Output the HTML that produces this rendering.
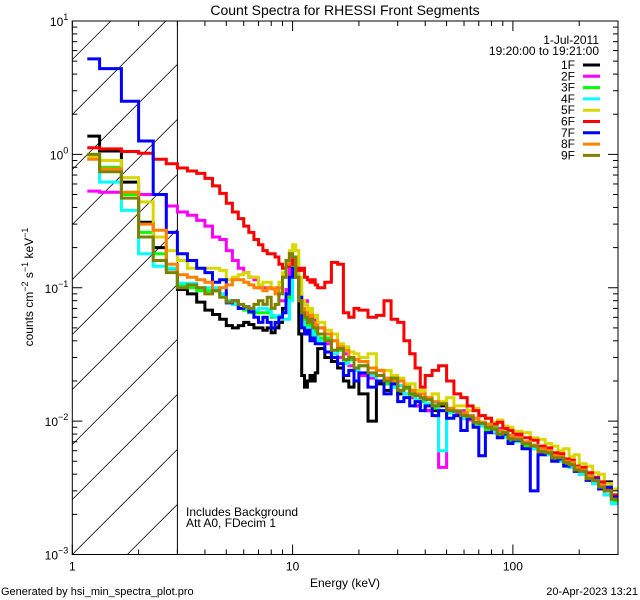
<!DOCTYPE html>
<html><head><meta charset="utf-8"><style>
html,body{margin:0;padding:0;background:#fff;width:640px;height:600px;overflow:hidden;}
svg{display:block;font-family:"Liberation Sans",sans-serif;}
</style></head><body>
<svg id="chart" width="640" height="600" viewBox="0 0 640 600">
<defs><clipPath id="pc"><rect x="72.3" y="21" width="545.7" height="533.5"/></clipPath></defs>
<rect width="640" height="600" fill="#fff"/>
<text x="345" y="15" text-anchor="middle" font-size="14">Count Spectra for RHESSI Front Segments</text>
<g id="hatch"></g>
<g id="series" clip-path="url(#pc)"></g>
<g id="axes"></g>
<text x="186" y="516" font-size="12">Includes Background</text>
<text x="186" y="527" font-size="12">Att A0, FDecim 1</text>
<text x="599" y="44" text-anchor="end" font-size="12">1-Jul-2011</text>
<text x="599" y="55" text-anchor="end" font-size="12">19:20:00 to 19:21:00</text>
<g id="legend"></g>
<text x="345" y="587" text-anchor="middle" font-size="12">Energy (keV)</text>
<text x="33" y="287" text-anchor="middle" font-size="12" transform="rotate(-90 33 287)">counts cm<tspan dy="-5" font-size="9">−2</tspan><tspan dy="5"> s</tspan><tspan dy="-5" font-size="9">−1</tspan><tspan dy="5"> keV</tspan><tspan dy="-5" font-size="9">−1</tspan></text>
<text x="1" y="595" font-size="11">Generated by hsi_min_spectra_plot.pro</text>
<text x="638" y="595" text-anchor="end" font-size="11">20-Apr-2023 13:21</text>
</svg>
<script>
const edges = [1.17,1.33,1.67,2.0,2.33,2.67,3.0,3.33,3.67,4.0,4.33,4.67,5.0,5.33,5.67,6,6.33,6.67,7,7.33,7.67,8,8.33,8.67,9,9.33,9.67,10,10.33,10.67,11,11.33,11.67,12,12.33,12.67,13,14,15,16,17,18,19,20,22,24,26,28,30,32,34,36,38,40,43,46,50,54,58,62,66,70,75,80,85,90,95,100,110,120,130,140,150,160,170,180,190,200,215,230,245,260,280,300];
const seriesNames = ["1F","2F","3F","4F","5F","6F","7F","8F","9F"];
const s1F = [1.37,1.06,0.62,0.31,0.2,0.139,0.097,0.09,0.078,0.068,0.063,0.058,0.052,0.05,0.052,0.055,0.053,0.05,0.05,0.048,0.05,0.046,0.05,0.055,0.07,0.08,0.14,0.17,0.12,0.045,0.022,0.018,0.02,0.022,0.02,0.023,0.035,0.03,0.028,0.025,0.02,0.018,0.02,0.016,0.01,0.019,0.017,0.018,0.016,0.016,0.015,0.013,0.014,0.012,0.012,0.013,0.012,0.011,0.0105,0.011,0.0098,0.0092,0.009,0.0082,0.0085,0.0078,0.0072,0.0075,0.0066,0.0066,0.006,0.0058,0.0052,0.0053,0.0048,0.0048,0.0043,0.0042,0.0036,0.0035,0.0031,0.0035,0.0025];
const s2F = [0.53,0.52,0.51,0.50,0.50,0.41,0.37,0.35,0.32,0.29,0.24,0.23,0.19,0.16,0.14,0.13,0.12,0.115,0.10,0.10,0.10,0.10,0.10,0.08,0.08,0.097,0.145,0.17,0.14,0.09,0.075,0.08,0.065,0.06,0.058,0.055,0.05,0.038,0.04,0.03,0.032,0.026,0.025,0.022,0.021,0.02,0.019,0.02,0.017,0.018,0.015,0.013,0.0145,0.012,0.013,0.0045,0.012,0.0115,0.012,0.0102,0.0105,0.0093,0.0095,0.0082,0.0088,0.0078,0.0073,0.0076,0.0068,0.0062,0.0063,0.0056,0.0055,0.0052,0.0049,0.0046,0.0045,0.004,0.0039,0.0034,0.0033,0.0028,0.0027];
const s3F = [1.0,0.8,0.5,0.26,0.18,0.14,0.105,0.1,0.095,0.095,0.095,0.09,0.08,0.075,0.07,0.068,0.065,0.065,0.065,0.065,0.065,0.06,0.06,0.06,0.065,0.08,0.12,0.16,0.14,0.09,0.06,0.05,0.055,0.045,0.05,0.045,0.042,0.042,0.034,0.034,0.028,0.029,0.025,0.026,0.022,0.022,0.019,0.0195,0.017,0.0175,0.0155,0.016,0.014,0.0145,0.0125,0.0135,0.0115,0.012,0.0105,0.011,0.0095,0.0098,0.0085,0.009,0.0078,0.0083,0.0072,0.0074,0.0065,0.0066,0.0058,0.0059,0.0052,0.0053,0.0048,0.0048,0.0042,0.0042,0.0037,0.0036,0.0031,0.003,0.0025];
const s4F = [0.93,0.62,0.38,0.18,0.145,0.14,0.108,0.108,0.1,0.1,0.1,0.09,0.08,0.075,0.07,0.07,0.07,0.068,0.07,0.07,0.068,0.062,0.06,0.062,0.058,0.058,0.08,0.13,0.16,0.10,0.055,0.05,0.045,0.05,0.042,0.045,0.04,0.045,0.032,0.035,0.027,0.03,0.024,0.026,0.022,0.02,0.021,0.018,0.0185,0.016,0.0165,0.0145,0.015,0.0135,0.0135,0.006,0.0115,0.012,0.0105,0.0108,0.0098,0.0092,0.0092,0.0083,0.0083,0.0076,0.0076,0.007,0.0069,0.0062,0.0062,0.0056,0.0055,0.005,0.0051,0.0045,0.0045,0.004,0.0039,0.0034,0.0033,0.0028,0.0024];
const s5F = [0.95,0.9,0.67,0.44,0.24,0.19,0.16,0.14,0.14,0.14,0.14,0.135,0.115,0.12,0.125,0.13,0.12,0.12,0.105,0.11,0.11,0.10,0.095,0.11,0.13,0.16,0.19,0.21,0.19,0.12,0.08,0.075,0.065,0.07,0.06,0.062,0.055,0.048,0.045,0.038,0.036,0.033,0.032,0.03,0.032,0.024,0.024,0.022,0.021,0.019,0.019,0.017,0.017,0.015,0.016,0.014,0.015,0.013,0.013,0.012,0.0125,0.011,0.0105,0.0098,0.0102,0.0092,0.009,0.0084,0.0082,0.0075,0.0073,0.0068,0.0065,0.006,0.0062,0.0054,0.0056,0.0048,0.0046,0.0041,0.004,0.0034,0.0031];
const s6F = [1.12,1.1,1.05,1.02,0.92,0.85,0.79,0.75,0.72,0.66,0.58,0.51,0.43,0.37,0.33,0.29,0.26,0.23,0.21,0.19,0.18,0.18,0.17,0.15,0.14,0.145,0.15,0.16,0.14,0.135,0.14,0.12,0.115,0.11,0.115,0.105,0.1,0.11,0.155,0.15,0.065,0.06,0.07,0.068,0.06,0.062,0.08,0.058,0.055,0.04,0.032,0.025,0.018,0.022,0.024,0.026,0.02,0.016,0.015,0.013,0.012,0.011,0.0105,0.0095,0.0098,0.0088,0.0085,0.008,0.0075,0.0072,0.0065,0.0063,0.0058,0.0057,0.0052,0.0051,0.0046,0.0045,0.0041,0.0038,0.0035,0.0031,0.0028];
const s7F = [5.2,4.4,2.5,1.26,0.5,0.26,0.18,0.16,0.14,0.13,0.11,0.115,0.077,0.08,0.07,0.072,0.066,0.06,0.055,0.06,0.055,0.05,0.055,0.06,0.065,0.09,0.12,0.14,0.12,0.085,0.05,0.045,0.048,0.04,0.042,0.038,0.038,0.033,0.03,0.027,0.022,0.024,0.02,0.023,0.018,0.02,0.016,0.019,0.014,0.015,0.013,0.014,0.012,0.013,0.011,0.012,0.0105,0.011,0.0085,0.0105,0.009,0.0055,0.0082,0.0088,0.0075,0.008,0.0068,0.0072,0.0062,0.003,0.0056,0.0058,0.005,0.0052,0.0046,0.0048,0.0042,0.0043,0.0036,0.0037,0.0031,0.0032,0.0027];
const s8F = [0.92,0.78,0.52,0.30,0.27,0.15,0.125,0.12,0.115,0.11,0.095,0.1,0.105,0.115,0.115,0.11,0.105,0.1,0.1,0.095,0.1,0.098,0.09,0.1,0.12,0.15,0.18,0.17,0.12,0.08,0.07,0.065,0.06,0.062,0.055,0.052,0.05,0.045,0.04,0.036,0.034,0.03,0.029,0.028,0.025,0.024,0.021,0.02,0.02,0.018,0.017,0.016,0.016,0.015,0.014,0.0135,0.0125,0.012,0.0115,0.011,0.0105,0.0098,0.0095,0.0088,0.0085,0.0082,0.0078,0.0075,0.007,0.0066,0.0062,0.006,0.0055,0.0054,0.005,0.0049,0.0045,0.0043,0.0039,0.0036,0.0033,0.003,0.0026];
const s9F = [1.0,0.74,0.47,0.24,0.16,0.13,0.10,0.105,0.1,0.09,0.095,0.085,0.078,0.08,0.075,0.072,0.07,0.075,0.08,0.075,0.085,0.07,0.075,0.09,0.12,0.16,0.18,0.17,0.12,0.08,0.065,0.06,0.055,0.058,0.05,0.05,0.045,0.04,0.034,0.035,0.029,0.03,0.025,0.026,0.023,0.022,0.02,0.021,0.017,0.018,0.016,0.0155,0.015,0.0145,0.013,0.0135,0.012,0.0118,0.011,0.0108,0.0098,0.0096,0.009,0.0087,0.008,0.0082,0.0074,0.0073,0.0068,0.0065,0.0059,0.0058,0.0053,0.0053,0.0049,0.0047,0.0043,0.0042,0.0037,0.0036,0.0032,0.003,0.0026];
const seriesColors = ["#000000","#ff00ff","#00ff00","#00ffff","#d8d800","#ff0000","#0000ff","#ff8000","#808000"];
const xTickMajor = [1,10,100];
const xTickLabels = ["1","10","100"];
const yTickExp = [1,0,-1,-2,-3];

const NS="http://www.w3.org/2000/svg";
const L=72.3,R=618,T=21,B=554.5;
const xLo=0, xHi=Math.log10(300);
const yLo=-3, yHi=1;
function xs(e){return L+(Math.log10(e)-xLo)/(xHi-xLo)*(R-L);}
function ys(v){return B-(Math.log10(v)-yLo)/(yHi-yLo)*(B-T);}
function mk(tag,attrs,parent){const el=document.createElementNS(NS,tag);for(const k in attrs)el.setAttribute(k,attrs[k]);parent.appendChild(el);return el;}

const hatch=document.getElementById('hatch');
const x3=xs(3);
for(let k=-2;k<12;k++){
  const y0=B-k*55;
  let xa=L+Math.max(0,y0-B), xb=Math.min(x3,L+(y0-T));
  if(xb<=xa) continue;
  const ln=mk('line',{x1:xa,y1:y0-(xa-L),x2:xb,y2:y0-(xb-L),stroke:'#000','stroke-width':0.8},hatch);
  
  
}
const vl=mk('line',{x1:x3,y1:T,x2:x3,y2:B,stroke:'#000','stroke-width':1},hatch);



const allSeries=[s1F,s2F,s3F,s4F,s5F,s6F,s7F,s8F,s9F];
const sg=document.getElementById('series');
allSeries.forEach((vals,si)=>{
  let d='';
  const n=Math.min(vals.length,edges.length-1);
  for(let i=0;i<n;i++){
    const y=ys(vals[i]).toFixed(1);
    d+=(i===0?'M':'L')+xs(edges[i]).toFixed(1)+','+y+'L'+xs(edges[i+1]).toFixed(1)+','+y;
  }
  const p=mk('path',{d:d,fill:'none',stroke:seriesColors[si],'stroke-width':3,'stroke-linejoin':'miter'},sg);
  
  
});

const ax=document.getElementById('axes');
const fr=mk('rect',{x:L,y:T,width:R-L,height:B-T,fill:'none',stroke:'#000','stroke-width':1},ax);


for(let dec=1;dec<=100;dec*=10){
  for(let m=1;m<10;m++){
    const e=dec*m; if(e>300) break;
    const x=xs(e), len=(m===1)?10:5;
    const t1=mk('line',{x1:x,y1:B,x2:x,y2:B-len,stroke:'#000'},ax);
    
    
    const t2=mk('line',{x1:x,y1:T,x2:x,y2:T+len,stroke:'#000'},ax);
    
    
  }
}
xTickMajor.forEach((e,i)=>{
  const t=mk('text',{x:xs(e),y:B+16,'text-anchor':'middle','font-size':12},ax);
  t.textContent=xTickLabels[i];
  
  
});
for(let p=-3;p<1;p++){
  for(let m=1;m<10;m++){
    const v=m*Math.pow(10,p), y=ys(v), len=(m===1)?10:5;
    const a=mk('line',{x1:L,y1:y,x2:L+len,y2:y,stroke:'#000'},ax);
    
    
    const b=mk('line',{x1:R,y1:y,x2:R-len,y2:y,stroke:'#000'},ax);
    
    
  }
}
yTickExp.forEach(p=>{
  const y=ys(Math.pow(10,p));
  const t=mk('text',{x:L-4,y:y+5,'text-anchor':'end','font-size':12},ax);
  
  
  const base=document.createElementNS(NS,'tspan');base.textContent='10';t.appendChild(base);
  const sup=document.createElementNS(NS,'tspan');sup.setAttribute('dy','-6');sup.setAttribute('font-size','9');sup.textContent=(p<0?'−':'')+Math.abs(p);t.appendChild(sup);
});

const lg=document.getElementById('legend');
seriesNames.forEach((nm,i)=>{
  const y=65+i*11.3;
  const t=mk('text',{x:575,y:y+4,'text-anchor':'end','font-size':12},lg);
  t.textContent=nm;
  
  
  const l=mk('line',{x1:583,y1:y,x2:600,y2:y,stroke:seriesColors[i],'stroke-width':3},lg);
  
  
});
</script>
</body></html>
